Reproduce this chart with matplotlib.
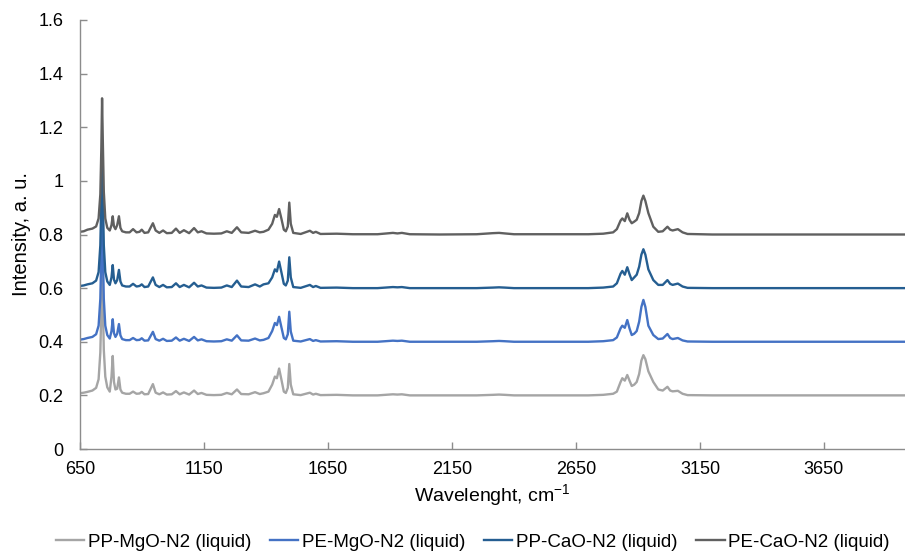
import matplotlib
matplotlib.use("Agg")
import matplotlib.pyplot as plt
from matplotlib.ticker import FuncFormatter

wavenumber = [650, 665, 680, 700, 715, 725, 732, 736, 739, 742, 746, 752, 760, 770, 777, 782, 787, 793, 800, 807,
              813, 820, 835, 850, 864, 878, 890, 899, 910, 925, 944, 955, 970, 985, 1000, 1020, 1037, 1052, 1069, 1090,
              1110, 1125, 1140, 1160, 1190, 1220, 1242, 1262, 1283, 1300, 1330, 1356, 1375, 1390, 1410, 1425, 1436, 1444, 1453, 1462,
              1472, 1480, 1488, 1494, 1500, 1510, 1540, 1577, 1590, 1601, 1620, 1685, 1750, 1850, 1912, 1930, 1948, 1980, 2100, 2250,
              2315, 2340, 2363, 2400, 2550, 2700, 2760, 2800, 2815, 2830, 2837, 2847, 2857, 2866, 2875, 2885, 2895, 2905, 2914, 2922,
              2930, 2942, 2962, 2982, 3000, 3019, 3030, 3040, 3061, 3080, 3100, 3200, 3400, 3600, 3800, 3976]

pp_mgo = [0.208, 0.210, 0.213, 0.218, 0.228, 0.26, 0.36, 0.52, 0.70, 0.55, 0.37, 0.27, 0.23, 0.214, 0.270, 0.347, 0.250, 0.222, 0.225, 0.267,
          0.222, 0.210, 0.206, 0.206, 0.214, 0.206, 0.207, 0.213, 0.204, 0.205, 0.242, 0.210, 0.204, 0.211, 0.203, 0.204, 0.216, 0.204, 0.211, 0.203,
          0.218, 0.205, 0.209, 0.202, 0.201, 0.202, 0.209, 0.204, 0.222, 0.205, 0.204, 0.212, 0.205, 0.208, 0.214, 0.240, 0.270, 0.264, 0.300, 0.260,
          0.214, 0.209, 0.228, 0.317, 0.240, 0.204, 0.201, 0.210, 0.203, 0.206, 0.201, 0.202, 0.200, 0.200, 0.204, 0.203, 0.204, 0.200, 0.200, 0.200,
          0.202, 0.203, 0.202, 0.200, 0.200, 0.200, 0.202, 0.206, 0.214, 0.250, 0.264, 0.255, 0.276, 0.255, 0.235, 0.240, 0.250, 0.280, 0.330, 0.350,
          0.335, 0.290, 0.250, 0.222, 0.218, 0.232, 0.218, 0.215, 0.217, 0.206, 0.201, 0.200, 0.200, 0.200, 0.200, 0.200]

pe_mgo = [0.408, 0.410, 0.414, 0.418, 0.428, 0.46, 0.56, 0.73, 0.90, 0.75, 0.56, 0.46, 0.425, 0.412, 0.440, 0.484, 0.432, 0.418, 0.430, 0.466,
          0.424, 0.410, 0.406, 0.406, 0.414, 0.406, 0.407, 0.413, 0.404, 0.405, 0.437, 0.410, 0.404, 0.411, 0.403, 0.404, 0.416, 0.404, 0.411, 0.403,
          0.418, 0.405, 0.409, 0.402, 0.401, 0.402, 0.409, 0.404, 0.424, 0.405, 0.404, 0.412, 0.405, 0.407, 0.414, 0.440, 0.470, 0.462, 0.493, 0.455,
          0.414, 0.409, 0.428, 0.512, 0.438, 0.404, 0.401, 0.410, 0.403, 0.406, 0.401, 0.402, 0.400, 0.400, 0.404, 0.403, 0.404, 0.400, 0.400, 0.400,
          0.402, 0.403, 0.402, 0.400, 0.400, 0.400, 0.402, 0.406, 0.416, 0.450, 0.460, 0.452, 0.481, 0.450, 0.425, 0.430, 0.440, 0.475, 0.530, 0.556,
          0.530, 0.460, 0.425, 0.410, 0.412, 0.429, 0.414, 0.410, 0.414, 0.405, 0.401, 0.400, 0.400, 0.400, 0.400, 0.400]

pp_cao = [0.608, 0.610, 0.614, 0.618, 0.628, 0.66, 0.76, 0.93, 1.10, 0.95, 0.76, 0.66, 0.625, 0.612, 0.640, 0.686, 0.632, 0.618, 0.630, 0.668,
          0.625, 0.610, 0.606, 0.606, 0.616, 0.606, 0.608, 0.614, 0.604, 0.606, 0.640, 0.612, 0.604, 0.612, 0.603, 0.604, 0.618, 0.604, 0.612, 0.603,
          0.620, 0.606, 0.610, 0.602, 0.601, 0.602, 0.610, 0.604, 0.628, 0.606, 0.604, 0.614, 0.606, 0.614, 0.618, 0.640, 0.670, 0.662, 0.699, 0.660,
          0.616, 0.610, 0.628, 0.715, 0.640, 0.604, 0.601, 0.612, 0.604, 0.608, 0.601, 0.602, 0.600, 0.600, 0.604, 0.603, 0.604, 0.600, 0.600, 0.600,
          0.602, 0.603, 0.602, 0.600, 0.600, 0.600, 0.602, 0.606, 0.618, 0.654, 0.664, 0.650, 0.678, 0.652, 0.630, 0.640, 0.650, 0.680, 0.725, 0.745,
          0.725, 0.670, 0.630, 0.612, 0.612, 0.630, 0.616, 0.612, 0.617, 0.606, 0.601, 0.600, 0.600, 0.600, 0.600, 0.600]

pe_cao = [0.810, 0.812, 0.818, 0.822, 0.830, 0.860, 0.950, 1.120, 1.308, 1.150, 0.960, 0.860, 0.825, 0.815, 0.835, 0.868, 0.830, 0.820, 0.835, 0.868,
          0.825, 0.812, 0.808, 0.808, 0.820, 0.808, 0.810, 0.818, 0.806, 0.808, 0.842, 0.815, 0.806, 0.815, 0.805, 0.806, 0.822, 0.806, 0.816, 0.805,
          0.824, 0.808, 0.812, 0.804, 0.803, 0.804, 0.812, 0.806, 0.827, 0.808, 0.806, 0.814, 0.808, 0.810, 0.818, 0.840, 0.873, 0.866, 0.895, 0.860,
          0.818, 0.812, 0.830, 0.919, 0.840, 0.806, 0.802, 0.814, 0.806, 0.810, 0.802, 0.803, 0.801, 0.801, 0.806, 0.804, 0.806, 0.801, 0.800, 0.801,
          0.805, 0.806, 0.804, 0.801, 0.801, 0.801, 0.803, 0.808, 0.820, 0.852, 0.860, 0.850, 0.879, 0.855, 0.842, 0.848, 0.855, 0.880, 0.925, 0.945,
          0.925, 0.880, 0.829, 0.810, 0.812, 0.829, 0.818, 0.815, 0.820, 0.808, 0.802, 0.800, 0.800, 0.800, 0.800, 0.800]

series_names = ["PP-MgO-N2 (liquid)", "PE-MgO-N2 (liquid)", "PP-CaO-N2 (liquid)", "PE-CaO-N2 (liquid)"]
series_values = [pp_mgo, pe_mgo, pp_cao, pe_cao]
colors = ["#A5A5A5", "#4472C4", "#255E91", "#606060"]

x_ticks = [650, 1150, 1650, 2150, 2650, 3150, 3650]
y_ticks = [0, 0.2, 0.4, 0.6, 0.8, 1.0, 1.2, 1.4, 1.6]

font = ["Liberation Sans", "DejaVu Sans"]

fig = plt.figure(figsize=(9.05, 5.53), dpi=100)
ax = fig.add_axes([80 / 905, (553 - 449) / 553, 825 / 905, 429 / 553])

for name, vals, c in zip(series_names, series_values, colors):
    ax.plot(wavenumber, vals, color=c, lw=1.7, label=name, solid_joinstyle="round")

ax.set_xlim(650, 3977)
ax.set_ylim(0, 1.6)
ax.set_xticks(x_ticks)
ax.set_yticks(y_ticks)
ax.yaxis.set_major_formatter(FuncFormatter(lambda v, p: ("%.1f" % v).rstrip("0").rstrip(".")))

for s in ["top", "right"]:
    ax.spines[s].set_visible(False)
for s in ["left", "bottom"]:
    ax.spines[s].set_color("#8C8C8C")
    ax.spines[s].set_linewidth(1.0)

ax.tick_params(axis="both", direction="in", length=5, width=1.0, color="#8C8C8C")
ax.tick_params(axis="y", pad=12)
ax.tick_params(axis="x", pad=9)
for lbl in ax.get_yticklabels() + ax.get_xticklabels():
    lbl.set_family(font)
    lbl.set_fontsize(13)
    lbl.set_color("#000000")

ax.set_ylabel("Intensity, a. u.", family=font, fontsize=14.5, labelpad=5)
ax.set_xlabel("Wavelenght, cm$^{\\mathregular{-1}}$", family=font, fontsize=14, labelpad=3)

leg = fig.legend(loc="center", bbox_to_anchor=(473 / 905, (553 - 542) / 553), ncol=4, frameon=False,
                 prop={"family": font, "size": 13.5}, handlelength=1.5, handletextpad=0.2,
                 columnspacing=1.0)

fig.savefig("out.png", dpi=100)
